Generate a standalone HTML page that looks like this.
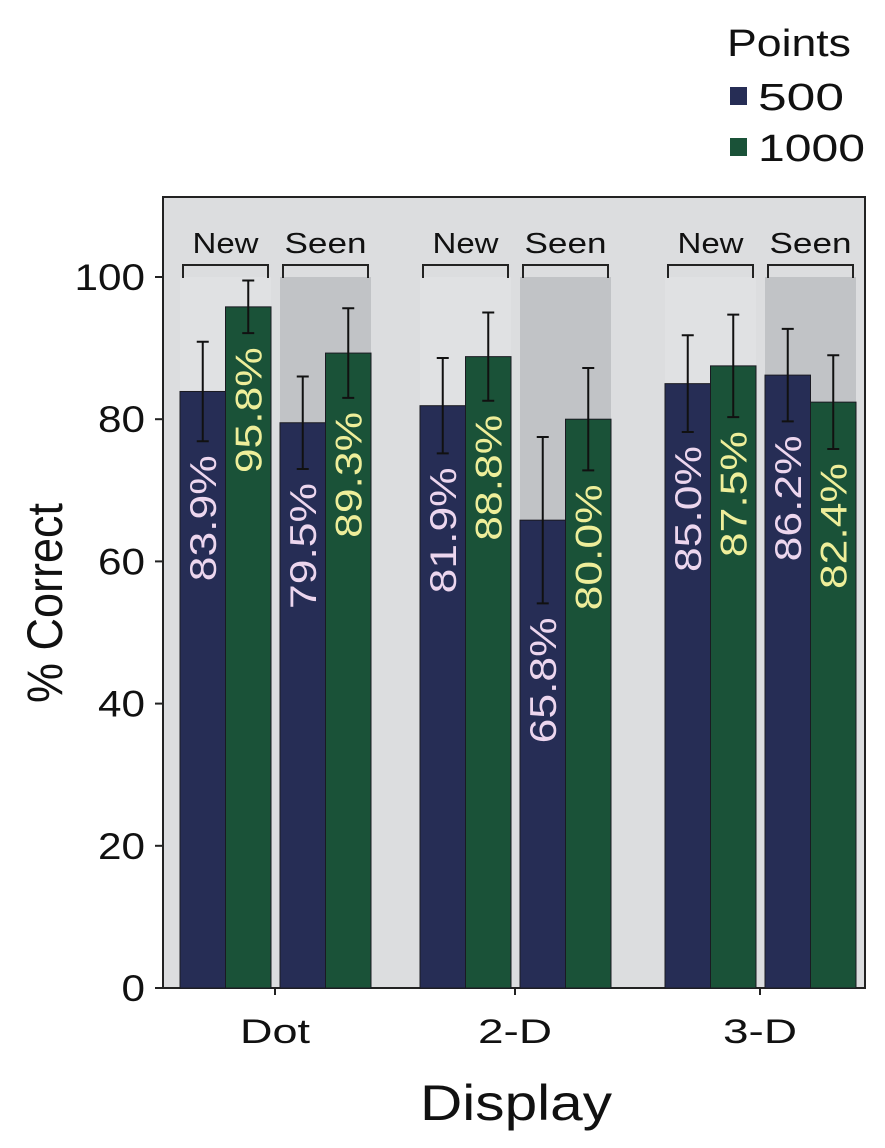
<!DOCTYPE html>
<html><head><meta charset="utf-8"><style>
html,body{margin:0;padding:0;background:#fff}
svg text{font-family:"Liberation Sans",sans-serif}
</style></head><body>
<svg id="chart" width="885" height="1143" viewBox="0 0 885 1143" xmlns="http://www.w3.org/2000/svg">
<rect x="0" y="0" width="885" height="1143" fill="#ffffff"/>
<rect x="163" y="197" width="702" height="791" fill="#dcdddf" stroke="#222" stroke-width="2"/>
<g id="bands"></g><g id="bars"></g><g id="axes"></g>
<text x="727" y="56" font-size="38" textLength="124" lengthAdjust="spacingAndGlyphs" fill="#111">Points</text>
<rect x="730" y="87" width="17" height="18" fill="#262d55"/>
<text x="758" y="110" font-size="38" textLength="86" lengthAdjust="spacingAndGlyphs" fill="#111">500</text>
<rect x="730" y="138" width="17" height="18" fill="#1a5238"/>
<text x="758" y="161" font-size="38" textLength="107" lengthAdjust="spacingAndGlyphs" fill="#111">1000</text>
<text transform="translate(62,603) rotate(-90)" text-anchor="middle" font-size="50" textLength="200" lengthAdjust="spacingAndGlyphs" fill="#111">% Correct</text>
<text x="516" y="1120" text-anchor="middle" font-size="50" textLength="192" lengthAdjust="spacingAndGlyphs" fill="#111">Display</text>
</svg>
<script>
const groups = ["Dot","2-D","3-D"];
const conditions = ["New","Seen"];
const vals500 = [[83.9,79.5],[81.9,65.8],[85.0,86.2]];
const vals1000 = [[95.8,89.3],[88.8,80.0],[87.5,82.4]];
const err500 = [[7.0,6.5],[6.7,11.7],[6.8,6.5]];
const err1000 = [[3.7,6.3],[6.2,7.2],[7.2,6.6]];
const yTicks = [0,20,40,60,80,100];

const NS="http://www.w3.org/2000/svg";
const y = v => 988 - v*7.11;
const groupCenter = [275, 515, 760];
const bw = 45.5;
function mk(parent, tag, attrs, txt){const e=document.createElementNS(NS,tag);for(const k in attrs)e.setAttribute(k,attrs[k]);if(txt!=null)e.textContent=txt;document.getElementById(parent).appendChild(e);return e;}

yTicks.forEach(t=>{
  const l=mk('axes','line',{x1:155,x2:163,y1:y(t),y2:y(t),stroke:'#222','stroke-width':2});
  
  
  const s=String(t);
  const tx=mk('axes','text',{x:145,y:y(t)+13,'text-anchor':'end','font-size':37,textLength:s.length*23.5,lengthAdjust:'spacingAndGlyphs',fill:'#111'},s);
  
  
});

groups.forEach((g,gi)=>{
  const gx = groupCenter[gi];
  const lt=mk('axes','line',{x1:gx,x2:gx,y1:988,y2:995,stroke:'#222','stroke-width':2});
  
  
  const xl=mk('axes','text',{x:gx,y:1043,'text-anchor':'middle','font-size':34,textLength:g==="Dot"?70:74,lengthAdjust:'spacingAndGlyphs',fill:'#111'},g);
  
  
  conditions.forEach((c,ci)=>{
    const x0 = gx - 95 + ci*100;
    if(c==="Seen"){
      const b=mk('bands','rect',{x:x0,y:y(100),width:bw*2,height:988-y(100),fill:'#c1c3c6'});
      
      
    } else {
      const b=mk('bands','rect',{x:x0,y:y(100),width:bw*2,height:988-y(100),fill:'#e0e1e3'});
      
      
    }
    const br=mk('axes','path',{d:`M${x0+3},278 V265 H${x0+bw*2-3} V278`,fill:'none',stroke:'#222','stroke-width':2});
    
    
    const bl=mk('axes','text',{x:x0+bw,y:253,'text-anchor':'middle','font-size':29,textLength:c==="New"?66:82,lengthAdjust:'spacingAndGlyphs',fill:'#111'},c);
    
    
    [[vals500,err500,'#262d55','#ecd6ee','500'],[vals1000,err1000,'#1a5238','#eeee9a','1000']].forEach((s,si)=>{
      const v=s[0][gi][ci], e=s[1][gi][ci];
      const bx=x0+si*bw;
      const r=mk('bars','rect',{x:bx,y:y(v),width:bw,height:988-y(v),fill:s[2],stroke:'#1a1a22','stroke-width':1});
      
      
      const cx=bx+bw/2;
      const eb=mk('bars','path',{d:`M${cx},${y(v+e)} V${y(v-e)} M${cx-6},${y(v+e)} H${cx+6} M${cx-6},${y(v-e)} H${cx+6}`,stroke:'#111','stroke-width':2,fill:'none'});
      
      
      const lab=mk('bars','text',{transform:`translate(${cx+13},${y(v-e)+14}) rotate(-90)`,'text-anchor':'end','font-size':37,textLength:126,lengthAdjust:'spacingAndGlyphs',fill:s[3]},v.toFixed(1)+'%');
      
      
    });
  });
});
</script>
</body></html>
